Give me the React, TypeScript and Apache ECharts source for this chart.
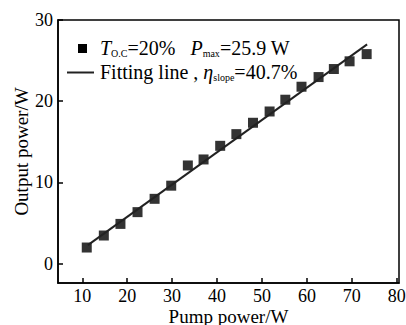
import React, { useEffect, useRef } from "react";
import * as echarts from "echarts";

const pumpPower = [11.0, 14.8, 18.5, 22.3, 26.1, 29.8, 33.5, 37.0, 40.7, 44.3, 48.0, 51.7, 55.2, 58.8, 62.6, 66.0, 69.5, 73.3];
const outputPower = [1.97, 3.45, 4.88, 6.33, 7.97, 9.59, 12.08, 12.82, 14.5, 15.94, 17.34, 18.73, 20.18, 21.78, 22.97, 23.96, 24.91, 25.8];
const fitX = [11.25, 73.4];
const fitY = [2.26, 27.0];
const xTicks = [10, 20, 30, 40, 50, 60, 70, 80];
const yTicks = [0, 10, 20, 30];

const FONT = "'Liberation Serif', 'Times New Roman', serif";

export default function App() {
  const ref = useRef<HTMLDivElement>(null);
  useEffect(() => {
    if (!ref.current) return;
    const chart = echarts.init(ref.current, null, { renderer: "svg" });
    const axisCommon = {
      type: "value" as const,
      axisLine: { show: true, onZero: false, lineStyle: { color: "#000", width: 1.5 } },
      splitLine: { show: false },
      nameLocation: "middle" as const,
      nameMoveOverlap: false,
      nameTextStyle: { fontSize: 19, color: "#000", fontFamily: FONT },
    };
    const richStyles = {
      i: { fontSize: 20, fontStyle: "italic", fontFamily: FONT, fill: "#000", lineHeight: 20 },
      n: { fontSize: 20, fontFamily: FONT, fill: "#000", lineHeight: 20 },
      s: { fontSize: 10, fontFamily: FONT, fill: "#000", verticalAlign: "bottom", lineHeight: 10 },
    };
    chart.setOption({
      animation: false,
      backgroundColor: "#fff",
      grid: {
        left: 58, right: 7, top: 20, bottom: 42,
        show: true, borderColor: "#000", borderWidth: 1.5,
        containLabel: false, outerBoundsMode: "none",
      },
      xAxis: {
        ...axisCommon,
        min: 4.6,
        max: 80.5,
        name: "Pump power/W",
        nameGap: 24,
        nameTextStyle: { fontSize: 19, color: "#000", fontFamily: FONT, lineHeight: 18 },
        axisTick: { show: true, inside: true, length: 5, customValues: xTicks, lineStyle: { color: "#000", width: 1.5 } },
        axisLabel: { customValues: xTicks, color: "#000", fontSize: 18, fontFamily: FONT, margin: 6, lineHeight: 14 },
      },
      yAxis: {
        ...axisCommon,
        min: -2.4,
        max: 30,
        name: "Output power/W",
        nameGap: 27,
        axisTick: { show: true, inside: true, length: 5, customValues: yTicks, lineStyle: { color: "#000", width: 1.5 } },
        axisLabel: { customValues: yTicks, color: "#000", fontSize: 18, fontFamily: FONT, margin: 5 },
      },
      series: [
        {
          type: "scatter",
          symbol: "rect",
          symbolSize: 10,
          itemStyle: { color: "#000" },
          data: pumpPower.map((x, i) => [x, outputPower[i]]),
          z: 2,
        },
        {
          type: "line",
          symbol: "none",
          lineStyle: { color: "#222", width: 2 },
          data: fitX.map((x, i) => [x, fitY[i]]),
          z: 3,
        },
      ],
      graphic: [
        { type: "rect", shape: { x: 78, y: 44, width: 9, height: 9 }, style: { fill: "#000" } },
        { type: "line", shape: { x1: 67, y1: 72.5, x2: 94, y2: 72.5 }, style: { stroke: "#222", lineWidth: 2 } },
        {
          type: "text",
          x: 100,
          y: 48,
          style: {
            text: "{i|T}{s|O.C}{n|=20%   }{i|P}{s|max}{n|=25.9 W}",
            verticalAlign: "middle",
            fill: "#000",
            rich: richStyles,
          },
        },
        {
          type: "text",
          x: 100,
          y: 72,
          style: {
            text: "{n|Fitting line , }{i|η}{s|slope}{n|=40.7%}",
            verticalAlign: "middle",
            fill: "#000",
            rich: richStyles,
          },
        },
      ],
    });
    return () => chart.dispose();
  }, []);
  return <div ref={ref} style={{ position: "fixed", left: 0, top: 0, width: 406, height: 325 }} />;
}
